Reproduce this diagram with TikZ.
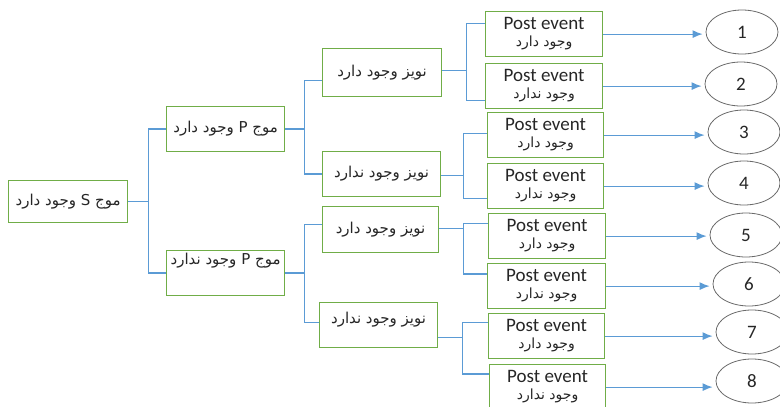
\documentclass[tikz,border=0pt]{standalone}
\usepackage{fontspec}
\setmainfont{Carlito}
\newfontfamily\farsi[Script=Arabic]{DejaVu Sans}
\TeXXeTstate=1
\usepackage{xcolor}
\usetikzlibrary{positioning,shapes,calc,arrows.meta}
\definecolor{boxgreen}{RGB}{112,173,71}
\definecolor{lineblue}{RGB}{91,155,213}
\definecolor{ringgray}{RGB}{105,105,105}
\newcommand{\fa}[1]{\beginR #1\endR}
\newcommand{\postline}[1]{{\farsi\fontsize{14}{16}\selectfont\beginR #1\endR}}

\begin{document}
\begin{tikzpicture}[x=1pt, y=-1pt,
    box/.style={rectangle, draw=boxgreen, line width=1.2pt, anchor=north west, inner sep=2pt, align=center, text=black!85},
    level/.style={box, minimum width=118pt, minimum height=45pt, font=\farsi\fontsize{15}{17}\selectfont},
    post/.style={box, minimum width=117pt, minimum height=45pt, font=\fontsize{19}{17}\selectfont},
    ring/.style={ellipse, draw=ringgray, line width=0.8pt, minimum width=72pt, minimum height=44pt, font=\fontsize{19}{19}\selectfont, text=black!85},
    link/.style={draw=lineblue, line width=1.3pt},
    arrow/.style={->, >={Latex[length=10pt,width=8pt]}, line width=1.2pt, color=lineblue, shorten >=3pt}
]
\useasboundingbox (0,0) rectangle (780,407);

\node[level, minimum width=119pt, minimum height=42pt] (root) at (8,180) {\fa{موج S وجود دارد}};

\node[level] (pyes) at (166,106) {\fa{موج P وجود دارد}};
\node[level, text height=10pt, text depth=27pt] (pno) at (166,250) {\fa{موج P وجود ندارد}};

\node[level, minimum width=119pt, minimum height=48pt] (ny1) at (322,48) {\fa{نویز وجود دارد}};
\node[level] (nn1) at (322,151) {\fa{نویز وجود ندارد}};
\node[level, minimum width=116pt, minimum height=46pt] (ny2) at (322,206) {\fa{نویز وجود دارد}};
\node[level, text height=10pt, text depth=14pt] (nn2) at (319,302) {\fa{نویز وجود ندارد}};

\node[post] (pe1) at (485,11) {Post event\\\postline{وجود دارد}};
\node[post] (pe2) at (485,63) {Post event\\\postline{وجود ندارد}};
\node[post, minimum width=116pt] (pe3) at (487,112) {Post event\\\postline{وجود دارد}};
\node[post, minimum width=116pt] (pe4) at (487,163) {Post event\\\postline{وجود ندارد}};
\node[post] (pe5) at (488,213) {Post event\\\postline{وجود دارد}};
\node[post, minimum width=118pt] (pe6) at (487,263) {Post event\\\postline{وجود ندارد}};
\node[post, minimum width=116pt] (pe7) at (488,313) {Post event\\\postline{وجود دارد}};
\node[post, minimum width=116pt] (pe8) at (489,364) {Post event\\\postline{وجود ندارد}};

\node[ring] (c1) at (742,32) {1};
\node[ring] (c2) at (741,84) {2};
\node[ring] (c3) at (744,132) {3};
\node[ring] (c4) at (744,183) {4};
\node[ring] (c5) at (746,235) {5};
\node[ring] (c6) at (749,284) {6};
\node[ring] (c7) at (752,332) {7};
\node[ring] (c8) at (752,381) {8};

\draw[link] (root.east) -- ++(20,0) coordinate (sfork);
\draw[link] (pyes.west) -| (sfork) |- (pno.west);

\draw[link] (pyes.east) -- ++(19,0) coordinate (pfork1);
\draw[link] ([yshift=-8pt]ny1.west) -| (pfork1) |- (nn1.west);
\draw[link] (pno.east) -- ++(19,0) coordinate (pfork2);
\draw[link] ([yshift=5pt]ny2.west) -| (pfork2) |- ([yshift=2.5pt]nn2.west);

\draw[link] ([yshift=2pt]ny1.east) -- ++(24,0) coordinate (nfork1);
\draw[link] ([yshift=10.5pt]pe1.west) -| (nfork1) |- ([yshift=-14.5pt]pe2.west);
\draw[link] ([yshift=-1.5pt]nn1.east) -- ++(22,0) coordinate (nfork2);
\draw[link] ([yshift=1.5pt]pe3.west) -| (nfork2) |- ([yshift=-12.5pt]pe4.west);
\draw[link] ([yshift=1pt]ny2.east) -- ++(24,0) coordinate (nfork3);
\draw[link] ([yshift=12.5pt]pe5.west) -| (nfork3) |- ([yshift=12pt]pe6.west);
\draw[link] ([yshift=-12.5pt]nn2.east) -- ++(24,0) coordinate (nfork4);
\draw[link] ([yshift=13.5pt]pe7.west) -| (nfork4) |- ([yshift=13pt]pe8.west);

\draw[arrow] (pe1.east) -- (pe1.east -| c1.west);
\draw[arrow] (pe2.east) -- (pe2.east -| c2.west);
\draw[arrow] (pe3.east) -- (pe3.east -| c3.west);
\draw[arrow] (pe4.east) -- (pe4.east -| c4.west);
\draw[arrow] (pe5.east) -- (pe5.east -| c5.west);
\draw[arrow] (pe6.east) -- (pe6.east -| c6.west);
\draw[arrow] (pe7.east) -- (pe7.east -| c7.west);
\draw[arrow] (pe8.east) -- (pe8.east -| c8.west);

\end{tikzpicture}
\end{document}
